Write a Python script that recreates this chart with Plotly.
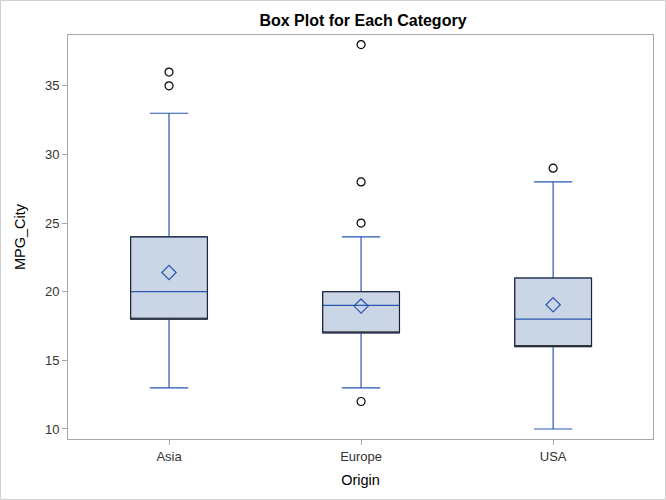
import plotly.graph_objects as go

# summary stats (MPG_City by Origin)
origins = ["Asia", "Europe", "USA"]
q1 = [18, 17, 16]
median = [20, 19, 18]
q3 = [24, 20, 21]
lower_fence = [13, 13, 10]
upper_fence = [33, 24, 28]
means = [21.4, 18.95, 19.05]
outlier_x = ["Asia", "Asia", "Europe", "Europe", "Europe", "Europe", "USA"]
outlier_y = [35, 36, 12, 25, 28, 38, 29]

BLUE = "#2A57B4"
FILL = "#CAD5E5"

fig = go.Figure()

# whiskers, caps and median line in blue
fig.add_trace(go.Box(
    x=origins, q1=q1, median=median, q3=q3,
    lowerfence=lower_fence, upperfence=upper_fence,
    width=0.4, whiskerwidth=0.5,
    fillcolor=FILL, line=dict(color=BLUE, width=1.2),
    boxpoints=False, hoverinfo="skip", showlegend=False,
))

# black box outline on top (whiskers collapsed into the box)
fig.add_trace(go.Box(
    x=origins, q1=q1, median=q1, q3=q3,
    lowerfence=q1, upperfence=q3,
    width=0.4, whiskerwidth=0,
    fillcolor="rgba(0,0,0,0)", line=dict(color="#222222", width=1),
    boxpoints=False, hoverinfo="skip", showlegend=False,
))

# means
fig.add_trace(go.Scatter(
    x=origins, y=means, mode="markers",
    marker=dict(symbol="diamond-open", size=11, color=BLUE, line=dict(width=1.2)),
    showlegend=False,
))

# outliers
fig.add_trace(go.Scatter(
    x=outlier_x, y=outlier_y, mode="markers",
    marker=dict(symbol="circle-open", size=8, color="black", line=dict(width=1.2)),
    showlegend=False,
))

axis_common = dict(
    showline=True, linecolor="#A8A8A8", linewidth=1, mirror=True,
    ticks="outside", ticklen=5, tickcolor="#A8A8A8",
    showgrid=False, zeroline=False,
    tickfont=dict(size=13, color="#333333"),
)

fig.update_layout(
    width=666, height=500,
    margin=dict(l=68, r=13, t=35, b=61),
    paper_bgcolor="white", plot_bgcolor="white",
    font=dict(family="Liberation Sans, Arial, sans-serif", color="black"),
    title=dict(text="<b>Box Plot for Each Category</b>", x=0.545, xanchor="center",
               y=0.96, yanchor="middle", font=dict(size=16)),
    boxmode="overlay",
    xaxis=dict(
        type="category", range=[-0.526, 2.52],
        title=dict(text="Origin", font=dict(size=14.5), standoff=12),
        **axis_common,
    ),
    yaxis=dict(
        range=[9.27, 38.7], tickvals=[10, 15, 20, 25, 30, 35],
        title=dict(text="MPG_City", font=dict(size=14.5), standoff=15),
        **axis_common,
    ),
    shapes=[dict(
        type="rect", xref="paper", yref="paper",
        x0=-67.5 / 585, x1=1 + 12.5 / 585, y0=-60.5 / 404, y1=1 + 34.5 / 404,
        line=dict(color="#D0D0D0", width=1), fillcolor="rgba(0,0,0,0)", layer="below",
    )],
)

fig.write_html("out.html", config={"displayModeBar": False},
               post_script="document.body.style.margin='0';")
